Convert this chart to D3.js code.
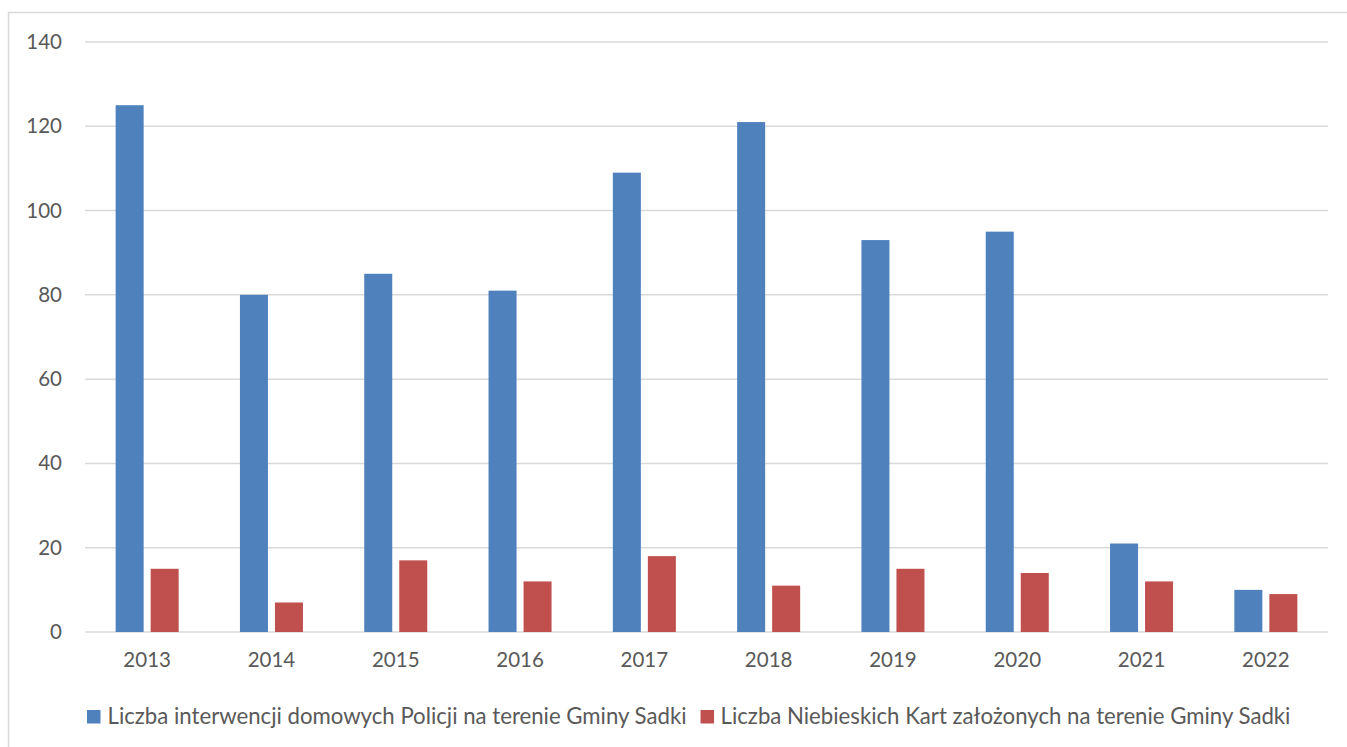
<!DOCTYPE html>
<html>
<head>
<meta charset="utf-8">
<script src="https://cdn.jsdelivr.net/npm/d3@7"></script>
<style>
  body { margin: 0; background: #fff; }
  text { font-family: Lato, "Open Sans", sans-serif; fill: #595959; }
</style>
</head>
<body>
<div id="chart"></div>
<script>
const years = ["2013", "2014", "2015", "2016", "2017", "2018", "2019", "2020", "2021", "2022"];
const interwencje = [125, 80, 85, 81, 109, 121, 93, 95, 21, 10];
const niebieskieKarty = [15, 7, 17, 12, 18, 11, 15, 14, 12, 9];
const seriesNames = [
  "Liczba interwencji domowych Policji na terenie Gminy Sadki",
  "Liczba Niebieskich Kart założonych na terenie Gminy Sadki"
];
const yTicks = [0, 20, 40, 60, 80, 100, 120, 140];

const colors = ["#4f81bd", "#c0504d"];

const svgWidth = 1347;
const svgHeight = 747;

const margin = { top: 42, right: 19, bottom: 115, left: 85 };
const width = svgWidth - margin.left - margin.right;
const height = svgHeight - margin.top - margin.bottom;

const svg = d3.select("#chart")
  .append("svg")
  .attr("width", svgWidth)
  .attr("height", svgHeight);

// chart frame (only top and left edges are visible in the picture)
svg.append("rect")
  .attr("x", 8.5)
  .attr("y", 12.5)
  .attr("width", svgWidth + 20)
  .attr("height", svgHeight + 20)
  .attr("fill", "none")
  .attr("stroke", "#d9d9d9")
  .attr("stroke-width", 1.5);

const chartGroup = svg.append("g")
  .attr("transform", `translate(${margin.left}, ${margin.top})`);

const x0 = d3.scaleBand()
  .domain(years)
  .range([0, width])
  .padding(0);

const groupW = x0.bandwidth() * 0.507;
const x1 = d3.scaleBand()
  .domain([0, 1])
  .range([0, groupW])
  .paddingInner(0.2);

const y = d3.scaleLinear()
  .domain([0, 140])
  .range([height, 0]);

// gridlines
chartGroup.append("g")
  .selectAll("line")
  .data(yTicks)
  .join("line")
  .attr("x1", 0)
  .attr("x2", width)
  .attr("y1", d => y(d))
  .attr("y2", d => y(d))
  .attr("stroke", "#d9d9d9")
  .attr("stroke-width", 1.5);

// y axis labels
const leftAxis = d3.axisLeft(y).tickValues(yTicks).tickSize(0).tickPadding(23);
const yAxis = chartGroup.append("g").call(leftAxis);
yAxis.select(".domain").remove();
yAxis.selectAll("text")
  .attr("font-size", "20.5px")
  .attr("font-family", "Lato, sans-serif")
  .attr("fill", "#595959");

// x axis labels
const bottomAxis = d3.axisBottom(x0).tickSize(0).tickPadding(20);
const xAxis = chartGroup.append("g")
  .attr("transform", `translate(0, ${height})`)
  .call(bottomAxis);
xAxis.select(".domain").remove();
xAxis.selectAll("text")
  .attr("font-size", "20.5px")
  .attr("font-family", "Lato, sans-serif")
  .attr("fill", "#595959");

// bars
const rows = years.map((yr, i) => ({ year: yr, values: [interwencje[i], niebieskieKarty[i]] }));

const groups = chartGroup.selectAll(".yr")
  .data(rows)
  .join("g")
  .attr("class", "yr")
  .attr("transform", d => `translate(${x0(d.year) + (x0.bandwidth() - groupW) / 2}, 0)`);

groups.selectAll("rect")
  .data(d => d.values.map((v, k) => ({ k, v })))
  .join("rect")
  .attr("x", d => x1(d.k))
  .attr("width", x1.bandwidth())
  .attr("y", d => y(d.v))
  .attr("height", d => height - y(d.v))
  .attr("fill", d => colors[d.k]);

// legend
const legend = svg.append("g")
  .attr("transform", "translate(87, 710)");

const item1 = legend.append("g");
item1.append("rect").attr("width", 13.5).attr("height", 13.5).attr("fill", colors[0]);
item1.append("text").attr("x", 20.5).attr("y", 14).attr("font-size", "22.2px").text(seriesNames[0]);

const w1 = item1.select("text").node().getComputedTextLength();
const item2 = legend.append("g")
  .attr("transform", `translate(${20.5 + w1 + 14}, 0)`);
item2.append("rect").attr("width", 13.5).attr("height", 13.5).attr("fill", colors[1]);
item2.append("text").attr("x", 20).attr("y", 14).attr("font-size", "22.2px").text(seriesNames[1]);
</script>
</body>
</html>
